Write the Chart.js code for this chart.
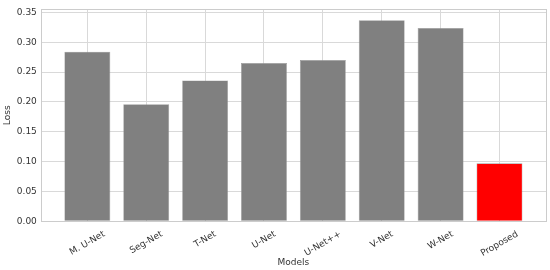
<!doctype html>
<html lang="en">
<head>
<meta charset="utf-8">
<title>Loss by model</title>
<script src="https://cdn.jsdelivr.net/npm/chart.js@4.4.0/dist/chart.umd.min.js"></script>
<style>
  html, body { margin: 0; padding: 0; background: #fff; }
  #wrap { width: 550px; height: 270px; }
</style>
</head>
<body>
<div id="wrap"><canvas id="myChart"></canvas></div>
<script>
// data
var models = ['M. U-Net', 'Seg-Net', 'T-Net', 'U-Net', 'U-Net++', 'V-Net', 'W-Net', 'Proposed'];
var loss = [0.284, 0.196, 0.236, 0.265, 0.270, 0.337, 0.324, 0.097];
var barColors = ['#808080', '#808080', '#808080', '#808080', '#808080', '#808080', '#808080', '#ff0000'];
var yTicks = [0.00, 0.05, 0.10, 0.15, 0.20, 0.25, 0.30, 0.35];

var FONT = 'DejaVu Sans';
var TEXT = '#333333';
var GRID = '#d9d9d9';

// frame round the plot + rotated, centred category labels (matplotlib style)
var framePlugin = {
    id: 'frame',
    beforeDatasetsDraw: function (chart) {
        var a = chart.chartArea, c = chart.ctx;
        c.save();
        c.strokeStyle = '#cccccc';
        c.lineWidth = 1;
        c.strokeRect(Math.round(a.left) + 0.5, Math.round(a.top) + 0.5,
            Math.round(a.right - a.left), Math.round(a.bottom - a.top));
        c.restore();
    },
    afterDraw: function (chart) {
        var xs = chart.scales.x, a = chart.chartArea, c = chart.ctx;
        c.save();
        c.font = '9px "' + FONT + '"';
        c.fillStyle = TEXT;
        c.textAlign = 'center';
        c.textBaseline = 'middle';
        var ang = Math.PI / 6, h = 10;
        models.forEach(function (m, i) {
            var w = c.measureText(m).width;
            var bh = w * Math.sin(ang) + h * Math.cos(ang);
            var px = xs.getPixelForValue(i);
            c.save();
            c.translate(px, a.bottom + 8 + bh / 2);
            c.rotate(-ang);
            c.fillText(m, 0, 0);
            c.restore();
        });
        c.restore();
    }
};

var ctx = document.getElementById('myChart');
var lossChart = new Chart(ctx, {
    type: 'bar',
    data: {
        datasets: [{
            label: 'Loss',
            data: loss.map(function (v, i) { return { x: i, y: v }; }),
            backgroundColor: barColors,
            borderColor: '#9a9a9a',
            borderWidth: 0.6,
            barPercentage: 0.78,
            categoryPercentage: 1.0
        }]
    },
    options: {
        responsive: true,
        maintainAspectRatio: false,
        animation: false,
        layout: { padding: { top: 5, right: 4, left: 2, bottom: 2 } },
        plugins: {
            legend: { display: false },
            tooltip: { enabled: false }
        },
        scales: {
            x: {
                type: 'linear',
                offset: false,
                min: -0.79,
                max: models.length - 1 + 0.79,
                afterBuildTicks: function (scale) {
                    scale.ticks = models.map(function (m, i) { return { value: i }; });
                },
                grid: { color: GRID, drawTicks: false, offset: false },
                border: { display: false },
                ticks: { display: false },
                title: {
                    display: true,
                    text: 'Models',
                    color: TEXT,
                    font: { family: FONT, size: 9 },
                    padding: { top: 36, bottom: 0 }
                }
            },
            y: {
                min: 0,
                max: 0.355,
                afterBuildTicks: function (scale) {
                    scale.ticks = yTicks.map(function (v) { return { value: v }; });
                },
                grid: { color: GRID, drawTicks: false },
                border: { display: false },
                ticks: {
                    color: TEXT,
                    font: { family: FONT, size: 9 },
                    padding: 4,
                    callback: function (v) { return Number(v).toFixed(2); }
                },
                title: {
                    display: true,
                    text: 'Loss',
                    color: TEXT,
                    font: { family: FONT, size: 9 },
                    padding: { top: 0, bottom: 0 }
                }
            }
        }
    },
    plugins: [framePlugin]
});
</script>
</body>
</html>
